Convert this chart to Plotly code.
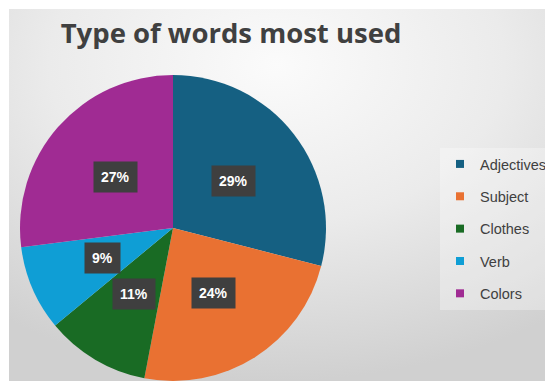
import base64, math
import plotly.graph_objects as go

categories = ["Adjectives", "Subject", "Clothes", "Verb", "Colors"]
values = [29, 24, 11, 9, 27]
colors = ["#156082", "#E97132", "#196B24", "#0F9ED5", "#A02B93"]
title_text = "Type of words most used"

W, H = 545, 381
dom_x = [20 / W, 326 / W]
dom_y = [0.0, 1 - 75 / H]

fig = go.Figure()

# background gradient panel
svg = ("<svg xmlns='http://www.w3.org/2000/svg' width='536' height='372'>"
       "<defs><radialGradient id='g' cx='0.5' cy='0.15' r='0.85'>"
       "<stop offset='0' stop-color='#fbfbfb'/><stop offset='0.5' stop-color='#ebebeb'/>"
       "<stop offset='1' stop-color='#d0d0d0'/></radialGradient></defs>"
       "<rect width='536' height='372' fill='url(#g)'/></svg>")
uri = "data:image/svg+xml;base64," + base64.b64encode(svg.encode()).decode()
fig.add_layout_image(source=uri, xref="paper", yref="paper", x=9 / W, y=1 - 9 / H,
                     sizex=536 / W, sizey=372 / H, sizing="stretch", layer="below",
                     xanchor="left", yanchor="top")

fig.add_trace(go.Pie(labels=categories, values=values, sort=False, direction="clockwise",
                     rotation=0, marker=dict(colors=colors, line=dict(width=0)),
                     textinfo="none", hoverinfo="label+percent", showlegend=False,
                     domain=dict(x=dom_x, y=dom_y)))

# legend entries
for c, col in zip(categories, colors):
    fig.add_trace(go.Scatter(x=[None], y=[None], mode="markers", name=c,
                             marker=dict(symbol="square", size=8, color=col),
                             legendgroup=c, showlegend=True))

# percent labels computed from the values and pie geometry
cx_px = (dom_x[0] + dom_x[1]) / 2 * W
cy_px = (1 - (dom_y[0] + dom_y[1]) / 2) * H
R = min((dom_x[1] - dom_x[0]) * W, (dom_y[1] - dom_y[0]) * H) / 2
total = sum(values)
cum = 0
for v in values:
    mid = (cum + v / 2) / total * 2 * math.pi
    cum += v
    px = cx_px + 0.5 * R * math.sin(mid)
    py = cy_px - 0.5 * R * math.cos(mid)
    fig.add_annotation(x=px / W, y=1 - py / H, xref="paper", yref="paper",
                       xanchor="center", yanchor="middle",
                       text="<b>%d%%</b>" % round(v / total * 100), showarrow=False,
                       font=dict(family="Liberation Sans", size=14, color="white"),
                       bgcolor="#3f3f3f", borderpad=7)

fig.update_layout(
    width=W, height=H, margin=dict(l=0, r=0, t=0, b=0, autoexpand=False),
    paper_bgcolor="white", plot_bgcolor="rgba(0,0,0,0)",
    title=dict(text="<b>" + title_text + "</b>", x=231 / W, xanchor="center",
               y=1 - 33 / H, yanchor="middle",
               font=dict(family="Open Sans", size=27.5, color="#404040")),
    xaxis=dict(visible=False), yaxis=dict(visible=False),
    legend=dict(x=440 / W, xanchor="left", y=1 - 148 / H, yanchor="top",
                font=dict(family="Liberation Sans", size=14.5, color="#404040"),
                tracegroupgap=10.5, bgcolor="rgba(255,255,255,0.3)"),
)

fig.write_html("out.html")
